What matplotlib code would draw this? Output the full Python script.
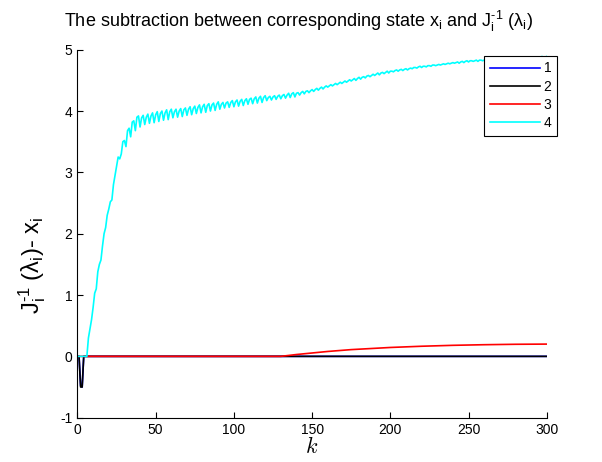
import numpy as np
import matplotlib
matplotlib.use('Agg')
import matplotlib.pyplot as plt

plt.rcParams['font.family'] = ['Liberation Sans', 'DejaVu Sans']
plt.rcParams['mathtext.fontset'] = 'custom'
plt.rcParams['mathtext.rm'] = 'Liberation Sans'
plt.rcParams['mathtext.it'] = 'Liberation Sans:italic'
plt.rcParams['axes.unicode_minus'] = False

# series 4 (cyan), one value per step k = 0..300
k4 = np.arange(301)
cyan = [
    0.00, 0.00, 0.00, 0.00, 0.00, 0.00, 0.00, 0.30, 0.45, 0.60,
    0.80, 1.03, 1.10, 1.38, 1.50, 1.57, 1.80, 2.00, 2.10, 2.30,
    2.40, 2.52, 2.55, 2.80, 2.95, 3.10, 3.25, 3.22, 3.30, 3.50,
    3.52, 3.42, 3.68, 3.72, 3.58, 3.82, 3.84, 3.68, 3.90, 3.92,
    3.74, 3.89, 3.93, 3.78, 3.90, 3.95, 3.80, 3.92, 3.97, 3.81,
    3.94, 3.99, 3.83, 3.96, 4.00, 3.85, 3.97, 4.02, 3.86, 3.99,
    4.03, 3.89, 3.99, 4.03, 3.90, 4.00, 4.04, 3.91, 4.02, 4.05,
    3.93, 4.03, 4.07, 3.94, 4.04, 4.08, 3.96, 4.06, 4.10, 3.97,
    4.07, 4.11, 3.98, 4.09, 4.12, 4.00, 4.10, 4.13, 4.01, 4.11,
    4.15, 4.03, 4.11, 4.14, 4.05, 4.13, 4.15, 4.06, 4.14, 4.17,
    4.07, 4.15, 4.18, 4.08, 4.16, 4.19, 4.09, 4.17, 4.20, 4.11,
    4.19, 4.21, 4.12, 4.20, 4.23, 4.13, 4.21, 4.24, 4.14, 4.22,
    4.25, 4.17, 4.22, 4.24, 4.18, 4.23, 4.25, 4.19, 4.24, 4.26,
    4.20, 4.25, 4.27, 4.21, 4.26, 4.29, 4.22, 4.28, 4.30, 4.23,
    4.29, 4.30, 4.26, 4.30, 4.32, 4.28, 4.32, 4.33, 4.30, 4.33,
    4.35, 4.32, 4.35, 4.37, 4.34, 4.37, 4.39, 4.36, 4.39, 4.41,
    4.39, 4.41, 4.43, 4.41, 4.43, 4.45, 4.43, 4.45, 4.47, 4.45,
    4.47, 4.49, 4.47, 4.49, 4.51, 4.49, 4.51, 4.53, 4.50, 4.53,
    4.55, 4.52, 4.55, 4.56, 4.54, 4.57, 4.58, 4.56, 4.58, 4.60,
    4.58, 4.60, 4.62, 4.59, 4.62, 4.63, 4.61, 4.63, 4.65, 4.62,
    4.65, 4.65, 4.64, 4.66, 4.67, 4.65, 4.67, 4.68, 4.66, 4.68,
    4.69, 4.67, 4.69, 4.70, 4.69, 4.71, 4.71, 4.70, 4.72, 4.73,
    4.71, 4.73, 4.73, 4.72, 4.74, 4.74, 4.73, 4.75, 4.75, 4.74,
    4.75, 4.76, 4.75, 4.76, 4.77, 4.76, 4.77, 4.78, 4.77, 4.78,
    4.79, 4.78, 4.79, 4.80, 4.78, 4.80, 4.81, 4.79, 4.81, 4.82,
    4.80, 4.82, 4.82, 4.81, 4.82, 4.83, 4.81, 4.83, 4.83, 4.82,
    4.83, 4.84, 4.83, 4.84, 4.85, 4.83, 4.85, 4.85, 4.84, 4.85,
    4.86, 4.84, 4.86, 4.86, 4.85, 4.86, 4.86, 4.85, 4.86, 4.87,
    4.85, 4.87, 4.87, 4.86, 4.87, 4.87, 4.86, 4.87, 4.88, 4.86,
    4.87, 4.88, 4.86, 4.88, 4.88, 4.87, 4.88, 4.89, 4.87, 4.88,
    4.89,
]

# series 1 and 2: short dip at the start, then zero
k1 = [0, 1, 2, 3, 4, 300]
blue = [0, 0, -0.48, -0.50, 0, 0]
k2 = [0, 1, 2, 3, 4, 300]
black = [0, 0, -0.50, -0.50, 0, 0]

# series 3: zero until ~130, then slow rise
k3 = [0, 130, 140, 150, 160, 175, 200, 220, 240, 260, 280, 300]
red = [0, 0, 0.03, 0.055, 0.08, 0.11, 0.145, 0.165, 0.18, 0.19, 0.197, 0.20]

xticks = [0, 50, 100, 150, 200, 250, 300]
yticks = [-1, 0, 1, 2, 3, 4, 5]

fig = plt.figure(figsize=(6.02, 4.62), dpi=100)
ax = fig.add_axes([0.1287, 0.0959, 0.7795, 0.7965])

ax.plot(k1, blue, color='#0000ff', lw=1.2, label='1')
ax.plot(k2, black, color='black', lw=1.2, label='2')
ax.plot(k3, red, color='#ff0000', lw=1.2, label='3')
ax.plot(k4, cyan, color='#00ffff', lw=1.2, label='4')

ax.set_xlim(0, 300)
ax.set_ylim(-1, 5)
ax.set_xticks(xticks)
ax.set_yticks(yticks)
ax.tick_params(direction='in', length=4, width=0.8, labelsize=10)
ax.spines['top'].set_visible(False)
ax.spines['right'].set_visible(False)
for s in ['left', 'bottom']:
    ax.spines[s].set_linewidth(0.8)

ax.set_title(r'The subtraction between corresponding state x$_{\mathrm{i}}$ and '
             r'J$_{\mathrm{i}}^{\text{-1}}$ (λ$_{\mathrm{i}}$)', fontsize=13, pad=16,
             x=0.47)
ax.set_ylabel(r'J$_{\mathrm{i}}^{\text{-1}}$ (λ$_{\mathrm{i}}$)- x$_{\mathrm{i}}$', fontsize=17)
ax.yaxis.set_label_coords(-0.062, 0.415)
ax.set_xlabel(r'$k$', fontsize=16, math_fontfamily='cm', labelpad=0)

leg = ax.legend(loc='upper left', bbox_to_anchor=(0.804, 0.879),
                bbox_transform=fig.transFigure, fancybox=False,
                framealpha=1, edgecolor='black', fontsize=10,
                handlelength=3.6, handletextpad=0.3, labelspacing=0.3,
                borderpad=0.4, borderaxespad=0)
leg.get_frame().set_linewidth(0.8)

fig.savefig('out.png', dpi=100)
